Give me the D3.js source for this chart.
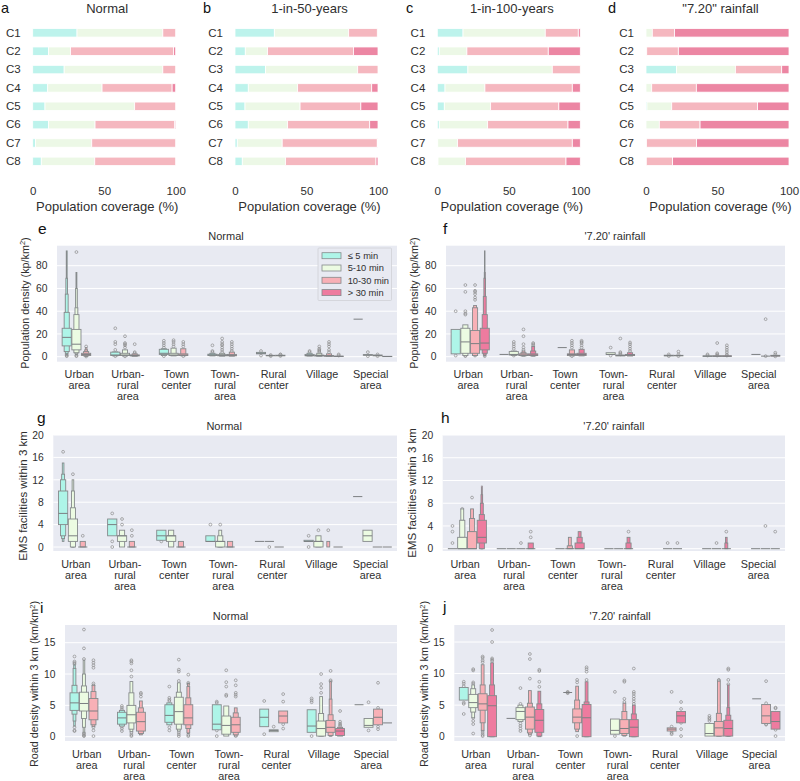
<!DOCTYPE html>
<html>
<head>
<meta charset="utf-8">
<script src="https://d3js.org/d3.v7.min.js"></script>
<style>
  body { margin: 0; background: #fff; }
  text { font-family: "Liberation Sans", Arial, sans-serif; fill: #2f2f2f; }
</style>
</head>
<body>
<script type="text/javascript">
// stacked bar data: one row per class C1..C8, columns follow seriesNames
var classes = ["C1", "C2", "C3", "C4", "C5", "C6", "C7", "C8"];
var seriesNames = ["≤ 5 min", "5-10 min", "10-30 min", "> 30 min"];
var coverageTicks = [0, 50, 100];

var coverNormal = [
  [31, 60, 9, 0], [11, 15.5, 72, 1.5], [22, 69, 9, 0], [10.5, 38, 49, 2.5],
  [8.6, 62.7, 28.7, 0], [11, 32.6, 55.7, 0.7], [1.9, 39.4, 58.7, 0], [6, 37.4, 56.6, 0]
];
var cover50 = [
  [27.5, 52, 20, 0], [7.2, 15.6, 60, 17.2], [21.4, 64.4, 14.2, 0], [9.3, 34.5, 51.8, 4.4],
  [7, 38.5, 42.5, 12], [9.3, 27.5, 57.4, 5.8], [1.6, 31.4, 66.5, 0.5], [5.1, 30.3, 63.2, 1.4]
];
var cover100 = [
  [18, 57.5, 23.1, 1.4], [1.4, 19.3, 56.9, 22.4], [21.4, 59, 19.6, 0], [5.4, 27.9, 61.1, 5.6],
  [4.9, 32.4, 47.7, 15], [1.4, 33.8, 56.2, 8.6], [0.3, 13.9, 80.2, 5.6], [0.5, 19.3, 70.2, 10]
];
var cover720 = [
  [0, 4.4, 15.6, 80], [0.3, 0.2, 22.1, 77.4], [21.4, 41.1, 32.4, 5.1], [0, 4, 31.2, 64.8],
  [0.7, 17.3, 60, 22], [0, 9.3, 28.5, 62.2], [0, 0.3, 35, 64.7], [0, 0.2, 18.4, 81.4]
];

// boxen data. each row: area, series, median, letter value levels (inner to outer), outliers
var areas = ["Urban area", "Urban- rural area", "Town center", "Town- rural area", "Rural center", "Village", "Special area"];
var densityTicks = [0, 20, 40, 60, 80];
var emsTicks = [0, 4, 8, 12, 16, 20];
var roadTicks = [0, 5, 10, 15];

var densityNormal = [
  [0, 0, 17, [[9.5, 25], [4.5, 39], [3, 55], [2, 69], [1.5, 93]], [0.5, 1, 2]],
  [0, 1, 11, [[6, 24], [3.5, 37], [2.5, 43], [2, 60], [1.5, 74]], [92, 1, 0.5]],
  [0, 2, 2, [[1, 3], [0.7, 4.5], [0.5, 6], [0.3, 8]], [9, 0.2]],
  [1, 0, 1.5, [[1, 4], [0.7, 4.2]], [6, 11, 13, 25, 0.5]],
  [1, 1, 1.5, [[1, 3], [0.6, 6]], [8, 10, 11, 12, 18, 0.3]],
  [1, 2, 1, [[0.7, 1.6], [0.4, 2.5]], [3, 4, 11]],
  [2, 0, 3, [[2, 6.5], [1, 7]], [8, 10, 12, 14, 0.5]],
  [2, 1, 1.5, [[1, 3], [0.7, 7.5]], [9, 11, 13, 14.5]],
  [2, 2, 1.5, [[1, 2.5], [0.8, 7]], [9, 11, 13, 0.5]],
  [3, 0, 1.5, [[1, 2.2], [0.7, 3]], [4, 5, 10]],
  [3, 1, 1.2, [[0.8, 1.8], [0.5, 3]], [4, 6, 8, 10, 11, 13, 16]],
  [3, 2, 1.2, [[0.8, 2], [0.5, 4]], [5, 7, 9, 11, 13]],
  [4, 0, 3, [[2.5, 3.8]], [1, 5]],
  [4, 1, 1, [[0.8, 1.2]], [0.5, 1.5]],
  [4, 2, 1, [[0.8, 1.3]], [0.6, 1.8, 2]],
  [5, 0, 1, [[0.8, 2], [0.6, 3]], [4, 5]],
  [5, 1, 1, [[0.6, 1.4], [0.4, 3]], [4, 5, 6, 7, 9]],
  [5, 2, 0.7, [[0.4, 1], [0.3, 2.5]], [4, 6, 9, 11, 13]],
  [5, 3, 0.3, [[0.2, 0.5]], [1, 2]],
  [6, 0, 33, [], []],
  [6, 1, 1.5, [[1.3, 1.8]], [0.5, 4]],
  [6, 2, 1, [[0.8, 1.5]], [0.5, 2]],
  [6, 3, 0.2, [[0.1, 0.3]], []]
];
var density720 = [
  [0, 0, null, [[2.5, 24]], [40, 1]],
  [0, 1, 13, [[3, 25], [1, 28]], [63, 57, 40, 38, 37, 1, 0.5]],
  [0, 2, 11.5, [[3, 23], [1, 43], [0.8, 45]], [63, 57, 58, 55, 52, 50, 1]],
  [0, 3, 12, [[6, 25], [3, 37], [1.5, 53], [1, 69], [0.8, 74], [0.6, 93]], [0.5]],
  [1, 0, 2, [], []],
  [1, 1, 2, [[1.5, 4.5], [1, 5]], [7, 9, 11, 13, 1]],
  [1, 2, 1.5, [[1, 2.5], [0.7, 3.5], [0.5, 5]], [6, 8, 11, 18, 24]],
  [1, 3, 1.5, [[1, 2.5], [0.7, 5], [0.5, 9]], [10, 11, 12]],
  [2, 1, 8, [], []],
  [2, 2, 2, [[1, 2.5], [0.7, 6]], [8, 10, 12, 14, 0.5]],
  [2, 3, 2, [[1, 3], [0.7, 6.5]], [8, 10, 12, 13, 14]],
  [3, 1, 2, [[2, 3.5]], [8, 1]],
  [3, 2, 1, [[0.7, 1.5]], [2, 3, 4, 16]],
  [3, 3, 1.5, [[1, 2], [0.6, 3.5]], [5, 7, 9, 11, 12.5]],
  [4, 2, 1, [[0.7, 1.3]], [0.5, 2]],
  [4, 3, 1, [[0.8, 1.2]], [0.5, 2, 4.5]],
  [5, 1, 0.5, [[0.3, 0.7]], [1, 2]],
  [5, 2, 0.5, [[0.3, 0.8]], [1, 2, 3, 12]],
  [5, 3, 0.5, [[0.3, 0.8]], [1, 2, 4, 6, 8, 10]],
  [6, 1, 2, [], []],
  [6, 2, 0.5, [], [33, 0.5]],
  [6, 3, 0.8, [[0.5, 1.2]], [0.3, 2, 3.5]]
];
var emsNormal = [
  [0, 0, 6, [[4, 10], [2, 12], [1.5, 13], [1, 15]], [17]],
  [0, 1, 2, [[1, 5], [0, 7], [0, 10], [0, 12]], [13]],
  [0, 2, 0, [[0, 0], [0, 1]], [2]],
  [1, 0, 4, [[2, 5]], [6, 1, 0]],
  [1, 1, 2, [[1, 2], [0, 3]], [4, 5]],
  [1, 2, 0, [[0, 0], [0, 1]], [2, 3]],
  [2, 0, 2, [[1.2, 3]], [1]],
  [2, 1, 2, [[1, 2], [0, 3]], []],
  [2, 2, 0, [[0, 0], [0, 1]], []],
  [3, 0, 1, [[1, 2]], [4]],
  [3, 1, 1, [[0, 1], [0, 2], [0, 3]], [4]],
  [3, 2, 0, [[0, 0], [0, 1]], []],
  [4, 0, 1, [], []],
  [4, 1, 1, [], [0]],
  [4, 2, 0, [], []],
  [5, 0, 1, [[1, 1.2]], [2, 0]],
  [5, 1, 1, [[0, 1], [0, 2]], [3]],
  [5, 2, null, [[0, 0], [0, 0], [0, 1]], [3]],
  [5, 3, 0, [], []],
  [6, 0, 9, [], []],
  [6, 1, 2, [[1, 3]], []],
  [6, 2, 0, [], []],
  [6, 3, 0, [], []]
];
var ems720 = [
  [0, 0, 0, [], [1, 3, 4]],
  [0, 1, 0, [[0, 2], [2, 5], [5, 7]], [7]],
  [0, 2, 0, [[0, 3], [3, 5.3], [5.3, 7]], [9]],
  [0, 3, 2, [[1, 5], [0, 6], [0, 8], [0, 9.5], [0, 11]], []],
  [1, 0, 0, [], []],
  [1, 1, 0, [], []],
  [1, 2, 0, [], [1]],
  [1, 3, 0, [[0, 0], [0, 1]], [2, 3]],
  [2, 1, 0, [], []],
  [2, 2, 0, [[0, 0], [0, 0.5], [0.5, 2]], []],
  [2, 3, 0, [[0, 1], [1, 2], [2, 3]], []],
  [3, 1, 0, [], []],
  [3, 2, 0, [], []],
  [3, 3, 0, [[0, 0], [0, 1], [1, 2]], [3]],
  [4, 2, 0, [], [1]],
  [4, 3, 0, [], [1]],
  [5, 1, 0, [], []],
  [5, 2, 0, [], [1]],
  [5, 3, 0, [[0, 0], [0, 0], [0, 1], [1, 2]], [3]],
  [6, 1, 0, [], []],
  [6, 2, 0, [], [4]],
  [6, 3, 0, [], [3]]
];
var roadNormal = [
  [0, 0, 5.4, [[4.2, 7], [3.6, 8.2], [2.5, 10.9], [1.7, 11.5]], [12.8, 12, 11.8, 11.6, 1.5, 0.9, 1]],
  [0, 1, 5.3, [[4.1, 7.1], [2.9, 8.1], [1.5, 10], [0.7, 12.2]], [17.1, 14.1, 12.4, 0.6, 0.4, 0.2, 0.1]],
  [0, 2, 4.1, [[2.7, 6.1], [1.9, 7.2], [1.6, 8.2]], [12.2, 11.8, 11.4, 11, 8.5, 8.2, 1.5, 1, 0.1]],
  [1, 0, 3, [[2, 3.9], [1.7, 4.2]], [4.9, 4.6, 4.3, 1.6, 1.3, 0.9]],
  [1, 1, 3.5, [[2.2, 5], [1.2, 7], [0.8, 8.8]], [12.2, 12, 11.7, 10.6, 9.6, 0.6, 0.3, 0.1]],
  [1, 2, 2.4, [[0.9, 3.9], [0.5, 4.6], [0.3, 5.7]], [7, 6.8, 6.4]],
  [2, 0, 3.4, [[2.3, 5.1], [1.9, 5.4]], [8, 6.2, 5.9, 5.7, 1.5, 1]],
  [2, 1, 4, [[2, 6.3], [1.2, 7.1], [0.9, 8.6]], [12.3, 10.7, 10.4, 8.9, 0.7, 0.4, 0.1]],
  [2, 2, 3, [[1.9, 5.1], [1.3, 6.2], [0.6, 8], [0.5, 8.5]], [9.9, 8.6, 8.4, 0.3, 0.1]],
  [3, 0, 2, [[1.1, 5.1]], [5.6, 5.4, 1, 0.1]],
  [3, 1, 1.8, [[0.4, 3.3], [0.1, 4.9]], [10.6, 8.7, 8, 6.7, 6.5]],
  [3, 2, 1.9, [[0.7, 3.1], [0.3, 3.8], [0.1, 4.6]], [9, 8.2, 7, 6.7, 6.4, 0.1]],
  [4, 0, 3.1, [[1.6, 4.4]], [5.7, 0.4]],
  [4, 1, 1, [[0.8, 1.1]], [1.6]],
  [4, 2, 3.3, [[2.2, 4.1]], [6.8, 5.6, 2, 1.3]],
  [5, 0, 1.7, [[0.7, 4.3]], [6.1, 5.8, 5.5, 0.1]],
  [5, 1, 1.3, [[0.1, 2.5], [0.1, 3.7], [0.1, 6.4]], [10, 8.4, 7.8, 7]],
  [5, 2, 1.5, [[0.7, 2.6], [0.2, 3.5], [0.1, 6], [0.1, 8.8]], [10.5, 9, 8.8]],
  [5, 3, 0.9, [[0.2, 1.3], [0.1, 1.5]], [4.1, 2.4, 2.1, 1.9, 1.7]],
  [6, 0, 5.1, [], []],
  [6, 1, 1.8, [[1.5, 2.9]], [5.5, 1]],
  [6, 2, 3.1, [[1.9, 4.4]], [8.6, 4.6, 1.6, 1.2]],
  [6, 3, 2.2, [], []]
];
var road720 = [
  [0, 0, null, [[5.8, 7.8]], [8.7, 8.4, 8, 5.4, 5.2, 3.6]],
  [0, 1, 5.4, [[4.6, 6.7], [3.9, 7.6], [3, 8.2]], [10.7, 10.5, 8.6, 8.4, 3, 2.5, 2, 0.5]],
  [0, 2, 5.2, [[4.2, 6.8], [2.2, 8.2], [1, 11.4]], [12.7, 12.5, 12.1, 11.8, 0.9, 0.6, 0.3, 0.1]],
  [0, 3, 4.9, [[0, 6.5], [0, 8.2], [0, 11.7]], [16.9, 15, 12.4, 12.2, 12]],
  [1, 0, 2.9, [], []],
  [1, 1, 4, [[2.7, 4.6], [2.4, 5]], [7.7, 1.3, 1.7, 2.1, 5.2, 0.9]],
  [1, 2, 3.1, [[1.2, 4.7], [0.6, 5.3], [0.3, 7.3]], [13.1, 12.3, 9.2, 0.2]],
  [1, 3, 2.6, [[0.7, 4.3], [0.1, 5.2], [0, 7.2]], [10.6, 10.4, 8.7, 7.9]],
  [2, 1, 7, [], [7.1, 6.9, 7]],
  [2, 2, 3.1, [[2.2, 4.4], [1.2, 5.8], [0.8, 8]], [9, 8.6, 0.1]],
  [2, 3, 3, [[0, 5.1], [0, 5.5], [0, 8.7]], [11, 10.7, 10.3, 9]],
  [3, 1, 1, [[0.4, 2.8]], [7.1, 0.1]],
  [3, 2, 1.3, [[0.5, 2.7], [0.2, 4], [0.1, 5.3]], [8.9, 8.7, 6, 5.5]],
  [3, 3, 1.5, [[0, 2.7], [0, 3.6], [0, 5]], [10.8, 7.1, 6.8, 6.4, 6, 5.6, 5.2]],
  [4, 2, 1.2, [[0.9, 1.4]], [7.1, 1.6, 0.9, 0.6, 0.4]],
  [4, 3, 3.3, [[2.2, 4]], [5.5, 4.4, 2.2, 1.2, 0.1]],
  [5, 1, 0.5, [[0.1, 2.1]], [3.3, 3, 2.8, 2.5]],
  [5, 2, 1.4, [[0.1, 2.4], [0.1, 3.7], [0.1, 8.8]], [9, 8.9]],
  [5, 3, 1.3, [[0.1, 2.6], [0.1, 3.4], [0.1, 4.6], [0.1, 8.2]], [10.8, 10.6, 9, 8.3]],
  [6, 1, 6, [], []],
  [6, 2, 3.3, [[2.1, 5.1]], [8.8, 5.3, 2, 1.9]],
  [6, 3, 2.4, [[1.2, 4]], [4.6, 4.5, 1.1, 0.1]]
];

var barColors = ["#bdf3ec", "#ecf8e6", "#f5b7bf", "#ec86a3"];
var boxColors = ["#aef5e8", "#ecfbe2", "#f8b0b6", "#ee7b9f"];
var lineGrey = "#868a8c";

var svg = d3.select("body").append("svg")
    .attr("width", 800)
    .attr("height", 781);

function letter(s, x, y, size) {
  svg.append("text").attr("x", x).attr("y", y)
      .style("font-size", size + "px").style("fill", "#111").text(s);
}

/* top row, stacked bars */
function coverPanel(rows, label, title, x0, x1, letterX) {
  var x = d3.scaleLinear().domain([0, 100]).range([x0, x1]);
  var y = d3.scaleBand().domain(classes).range([18.7, 175.5]).padding(0.54);
  var stack = d3.stack().keys([0, 1, 2, 3])(rows);

  var g = svg.append("g");
  g.selectAll("g.s").data(stack).enter().append("g")
      .attr("class", "s")
      .attr("fill", function(d, i) { return barColors[i]; })
    .selectAll("rect").data(function(d) { return d; }).enter().append("rect")
      .attr("x", function(d) { return x(d[0]); })
      .attr("width", function(d) { return Math.max(0, x(d[1]) - x(d[0])); })
      .attr("y", function(d, i) { return y(classes[i]); })
      .attr("height", y.bandwidth())
      .attr("stroke", "#fff")
      .attr("stroke-width", 0.8);

  var ax = svg.append("g").attr("transform", "translate(0,195)")
      .call(d3.axisBottom(x).tickValues(coverageTicks).tickSize(0).tickPadding(0));
  ax.select(".domain").remove();
  ax.selectAll("text").attr("dy", 0).attr("y", 0).style("font-size", "11.5px");

  var ay = svg.append("g").attr("transform", "translate(" + x0 + ",0)")
      .call(d3.axisLeft(y).tickSize(0).tickPadding(12));
  ay.select(".domain").remove();
  ay.selectAll("text").style("font-size", "11.5px");

  svg.append("text").attr("x", (x0 + x1) / 2 + 3).attr("y", 211)
      .attr("text-anchor", "middle").style("font-size", "13px")
      .text("Population coverage (%)");
  svg.append("text").attr("x", (x0 + x1) / 2 + 3).attr("y", 12.5)
      .attr("text-anchor", "middle").style("font-size", "13px")
      .text(title);
  letter(label, letterX, 13.2, 14.5);
}

/* lower rows, letter value plots */
function boxenPanel(rows, p) {
  var yMax = p.ticks[p.ticks.length - 1];
  var y = d3.scaleLinear().domain([0, yMax]).range([p.y0, p.yTop]);
  var x = d3.scaleBand().domain(d3.range(areas.length)).range([p.left, p.right])
      .paddingInner(0.2).paddingOuter(0.1);
  var hue = d3.scaleBand().domain([0, 1, 2, 3]).range([0, x.bandwidth()]);
  var bw = hue.bandwidth();

  svg.append("rect").attr("x", p.left).attr("y", p.top)
      .attr("width", p.right - p.left).attr("height", p.bottom - p.top)
      .attr("fill", "#e8eaf2");

  svg.append("g").selectAll("line").data(p.ticks).enter().append("line")
      .attr("x1", p.left).attr("x2", p.right)
      .attr("y1", function(d) { return y(d); })
      .attr("y2", function(d) { return y(d); })
      .attr("stroke", "#fff").attr("stroke-width", 1);

  var ay = svg.append("g").attr("transform", "translate(" + (p.left - 9.5) + ",0)")
      .call(d3.axisLeft(y).tickValues(p.ticks).tickSize(0).tickPadding(0));
  ay.select(".domain").remove();
  ay.selectAll("text").style("font-size", "10.3px");

  // category labels wrap at the spaces
  var ax = svg.append("g").attr("transform", "translate(-2," + p.labelY + ")")
      .call(d3.axisBottom(x).tickSize(0).tickPadding(0)
        .tickFormat(function(d) { return areas[d]; }));
  ax.select(".domain").remove();
  ax.selectAll("text").attr("y", 0).attr("dy", 0)
      .style("font-size", "10.8px")
      .each(function() {
        var t = d3.select(this), words = t.text().split(" ");
        t.text(null);
        words.forEach(function(w, i) {
          t.append("tspan").attr("x", 0).attr("dy", i ? 11 : 0).text(w);
        });
      });

  rows.forEach(function(r) {
    var cx = x(r[0]) + hue(r[1]) + bw / 2;
    var g = svg.append("g");
    // outliers below everything else
    g.selectAll("circle").data(r[4]).enter().append("circle")
        .attr("cx", cx)
        .attr("cy", function(d) { return y(d); })
        .attr("r", 1.4)
        .attr("fill", "none").attr("stroke", "#8b8b8b").attr("stroke-width", 0.7);
    // widest level is the inner one, so draw from the outside in
    var lev = r[3].map(function(d, i) { return { v: d, i: i }; }).reverse();
    g.selectAll("rect").data(lev).enter().append("rect")
        .attr("x", function(d) { return cx - bw * 0.47 * Math.pow(0.56, d.i); })
        .attr("width", function(d) { return bw * 0.94 * Math.pow(0.56, d.i); })
        .attr("y", function(d) { return y(d.v[1]); })
        .attr("height", function(d) { return y(d.v[0]) - y(d.v[1]); })
        .attr("fill", boxColors[r[1]])
        .attr("stroke", lineGrey)
        .attr("stroke-width", 0.9);
    if (r[2] !== null) {
      g.append("line")
          .attr("x1", cx - bw * 0.47).attr("x2", cx + bw * 0.47)
          .attr("y1", y(r[2])).attr("y2", y(r[2]))
          .attr("stroke", "#7c7f82").attr("stroke-width", 1);
    }
  });

  svg.append("text").attr("x", (p.left + p.right) / 2 + p.titleDx).attr("y", p.titleY)
      .attr("text-anchor", "middle").style("font-size", "11px")
      .text(p.title);

  var yl = svg.append("text")
      .attr("transform", "translate(" + p.ylX + "," + p.ylY + ")rotate(-90)")
      .attr("text-anchor", "middle")
      .style("font-size", p.ylSize + "px");
  yl.append("tspan").text(p.ylabel);
  if (p.unit) {
    yl.append("tspan").text(" (" + p.unit);
    yl.append("tspan").attr("dy", -3.5).style("font-size", "7.5px").text("2");
    yl.append("tspan").attr("dy", 3.5).text(")");
  }
  letter(p.label, p.letterX, p.letterY, 15.5);
}

function legend() {
  var lg = svg.append("g");
  lg.append("rect").attr("x", 318).attr("y", 248).attr("width", 73.5).attr("height", 52.5)
      .attr("fill", "#e8eaf2").attr("stroke", "#cfd0d6").attr("stroke-width", 0.8).attr("rx", 1);
  seriesNames.forEach(function(s, i) {
    var yy = 255.7 + i * 12.3;
    lg.append("rect").attr("x", 322).attr("y", yy - 3).attr("width", 19).attr("height", 6)
        .attr("fill", boxColors[i]).attr("stroke", lineGrey).attr("stroke-width", 0.8);
    lg.append("text").attr("x", 347.7).attr("y", yy + 3.3)
        .style("font-size", "9.3px").text(s);
  });
}

coverPanel(coverNormal, "a", "Normal", 32.7, 175.7, 1);
coverPanel(cover50, "b", "1-in-50-years", 235, 378, 203);
coverPanel(cover100, "c", "1-in-100-years", 437.3, 580.3, 406);
coverPanel(cover720, "d", "\"7.20\" rainfall", 646, 789, 608);

boxenPanel(densityNormal, { label: "e", title: "Normal", ticks: densityTicks, left: 57, right: 397, top: 245.7, bottom: 361.7,
  y0: 356.7, yTop: 265.7, labelY: 378, titleY: 240, titleDx: -1, ylX: 28.5, ylY: 303, ylSize: 10.8, ylabel: "Population density", unit: "kp/km", letterX: 38, letterY: 234 });
boxenPanel(density720, { label: "f", title: "'7.20' rainfall", ticks: densityTicks, left: 446, right: 785, top: 245.7, bottom: 361.7,
  y0: 356.7, yTop: 265.7, labelY: 378, titleY: 240, titleDx: -0.5, ylX: 418, ylY: 303, ylSize: 10.8, ylabel: "Population density", unit: "kp/km", letterX: 443, letterY: 234 });
boxenPanel(emsNormal, { label: "g", title: "Normal", ticks: emsTicks, left: 53.3, right: 397, top: 435, bottom: 551,
  y0: 547, yTop: 435, labelY: 568, titleY: 430, titleDx: -1, ylX: 26.5, ylY: 496, ylSize: 11.5, ylabel: "EMS facilities within 3 km", letterX: 37, letterY: 423 });
boxenPanel(ems720, { label: "h", title: "'7.20' rainfall", ticks: emsTicks, left: 442.7, right: 785, top: 435, bottom: 551,
  y0: 548.7, yTop: 435, labelY: 568, titleY: 430, titleDx: 0, ylX: 416, ylY: 493, ylSize: 11.5, ylabel: "EMS facilities within 3 km", letterX: 441, letterY: 423 });
boxenPanel(roadNormal, { label: "i", title: "Normal", ticks: roadTicks, left: 65, right: 397, top: 625, bottom: 741,
  y0: 736.7, yTop: 642.7, labelY: 758, titleY: 620, titleDx: -0.5, ylX: 38, ylY: 684, ylSize: 10.8, ylabel: "Road density within 3 km", unit: "km/km", letterX: 40, letterY: 613 });
boxenPanel(road720, { label: "j", title: "'7.20' rainfall", ticks: roadTicks, left: 454.3, right: 785, top: 625, bottom: 741,
  y0: 736.7, yTop: 642, labelY: 758, titleY: 620, titleDx: 0.5, ylX: 428, ylY: 684, ylSize: 10.8, ylabel: "Road density within 3 km", unit: "km/km", letterX: 443, letterY: 612 });
legend();
</script>
</body>
</html>
